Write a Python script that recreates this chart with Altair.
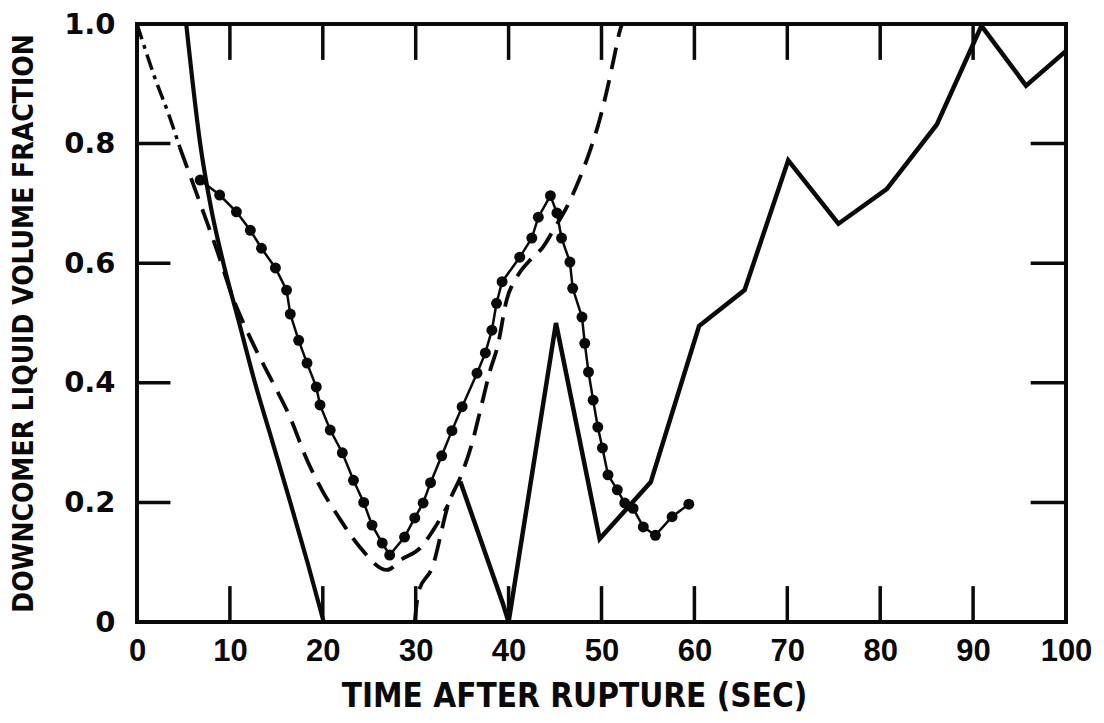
import altair as alt
import pandas as pd

# ---- data ----
x_ticks = [0, 10, 20, 30, 40, 50, 60, 70, 80, 90, 100]
y_ticks = [0, 0.2, 0.4, 0.6, 0.8, 1.0]
inner_x_ticks = [10, 20, 30, 40, 50, 60, 70, 80, 90]
inner_y_ticks = [0.2, 0.4, 0.6, 0.8]

dashdot_t = [0, 1.9, 3.5, 4.6]
dashdot_v = [1.0, 0.911, 0.845, 0.794]

dashed1_t = [4.6, 6.8, 8.6, 10.3, 11.6, 13.2, 14.8, 16.4, 18.3, 20.0, 21.6, 24.0, 26.9, 28.5, 30.5, 31.9, 33.5]
dashed1_v = [0.794, 0.70, 0.622, 0.543, 0.495, 0.443, 0.395, 0.345, 0.271, 0.218, 0.178, 0.125, 0.087, 0.105, 0.124, 0.154, 0.196]

dashed2_t = [29.9, 30.3, 31.8, 33.5, 35.0, 36.1, 37.0, 38.0, 38.8, 39.8, 40.9, 42.3, 43.7, 45.0,
             46.3, 47.6, 48.8, 49.8, 50.6, 51.3, 52.0, 52.2]
dashed2_v = [0.0, 0.05, 0.092, 0.196, 0.249, 0.301, 0.357, 0.42, 0.46, 0.539, 0.577, 0.605, 0.627, 0.66,
             0.695, 0.74, 0.79, 0.84, 0.89, 0.94, 0.99, 1.0]

solidA_t = [5.3, 6.8, 8.0, 9.3, 11.0, 12.7, 14.6, 16.5, 18.4, 20.1]
solidA_v = [1.0, 0.8, 0.69, 0.6, 0.5, 0.40, 0.30, 0.2, 0.097, 0.0]

solidB_t = [34.8, 39.4, 40.0, 45.1, 49.8, 55.3, 60.5, 65.4, 70.1, 75.5, 80.7, 86.1, 90.9, 95.7, 100]
solidB_v = [0.235, 0.03, 0.0, 0.5, 0.139, 0.234, 0.495, 0.555, 0.772, 0.666, 0.724, 0.832, 0.997, 0.897, 0.955]

dots_t = [6.8, 8.9, 10.7, 12.2, 13.4, 14.9, 16.1, 16.5, 17.4, 18.3, 19.3, 19.7, 20.8, 22.1, 23.3, 24.4,
          25.3, 26.4, 27.2, 28.8, 29.9, 30.8, 31.6, 32.8, 33.9, 35.0, 36.6, 37.5, 38.2, 38.7, 39.3,
          41.2, 42.5, 43.2, 44.5, 45.2, 45.7, 46.6, 46.9, 47.9, 48.2, 48.6, 49.1, 49.6, 50.1, 50.7,
          51.7, 52.5, 53.4, 54.5, 55.8, 57.6, 59.4]
dots_v = [0.739, 0.714, 0.686, 0.655, 0.625, 0.592, 0.555, 0.515, 0.471, 0.433, 0.393, 0.363, 0.321,
          0.283, 0.237, 0.2, 0.162, 0.132, 0.112, 0.142, 0.174, 0.199, 0.233, 0.278, 0.32, 0.36, 0.416,
          0.45, 0.488, 0.533, 0.569, 0.61, 0.642, 0.677, 0.713, 0.684, 0.642, 0.602, 0.558, 0.51,
          0.466, 0.418, 0.371, 0.326, 0.291, 0.246, 0.221, 0.199, 0.19, 0.159, 0.145, 0.176, 0.197]

INK = "#0a0a0a"
LABEL_FONT = "Liberation Sans, Roboto, DejaVu Sans"
YLABEL_FONT = "DejaVu Sans"
TITLE_FONT = "DejaVu Sans Condensed, DejaVu Sans"

W, H = 929, 598


def frame(t, v):
    return pd.DataFrame({"t": t, "v": v, "i": list(range(len(t)))})


xscale = alt.Scale(domain=[0, 100], nice=False, zero=False)
yscale = alt.Scale(domain=[0, 1], nice=False, zero=False)

xaxis = alt.Axis(
    values=x_ticks, ticks=False, domain=False, grid=False, labelOverlap=False, labelFlush=False,
    labelFont=LABEL_FONT, labelFontSize=31, labelFontWeight="bold", labelColor=INK, labelPadding=14,
    title="TIME AFTER RUPTURE (SEC)", titleFont=TITLE_FONT, titleFontSize=33, titleFontWeight="bold",
    titleColor=INK, titleX=437, titleY=84, titleAlign="center", titleBaseline="alphabetic",
)
yaxis = alt.Axis(
    values=y_ticks, ticks=False, domain=False, grid=False, labelOverlap=False, labelFlush=False,
    labelExpr="datum.value == 0 ? '0' : format(datum.value, '.1f')",
    labelFont=YLABEL_FONT, labelFontSize=29, labelFontWeight="bold", labelColor=INK, labelPadding=22,
    labelBaseline="middle",
    title="DOWNCOMER LIQUID VOLUME FRACTION", titleFont=TITLE_FONT, titleFontSize=28,
    titleFontWeight="bold", titleColor=INK, titleAngle=270, titleX=-113, titleY=H / 2,
    titleAlign="center", titleBaseline="middle",
)


def X(field="t"):
    return alt.X(f"{field}:Q", scale=xscale, axis=xaxis)


def Y(field="v"):
    return alt.Y(f"{field}:Q", scale=yscale, axis=yaxis)


def line(df, width, dash=None, interp="linear"):
    kw = dict(color=INK, strokeWidth=width, clip=True, interpolate=interp, strokeCap="butt")
    if dash:
        kw["strokeDash"] = dash
    return alt.Chart(df).mark_line(**kw).encode(x=X(), y=Y(), order="i:Q")


layers = [
    line(frame(dashdot_t, dashdot_v), 3.5, [16, 6, 4, 6], "monotone"),
    line(frame(dashed1_t, dashed1_v), 3.8, [22, 11], "monotone"),
    line(frame(dashed2_t, dashed2_v), 3.8, [22, 11], "monotone"),
    line(frame(solidA_t, solidA_v), 4.2, None, "monotone"),
    line(frame(solidB_t, solidB_v), 4.5, None, "linear"),
    line(frame(dots_t, dots_v), 2.5, None, "linear"),
    alt.Chart(frame(dots_t, dots_v)).mark_point(filled=True, color=INK, size=120, opacity=1).encode(x=X(), y=Y()),
]

# inward frame ticks (tick lengths in data units: 0.06 of y range, 3.6 of x range)
xt_bottom = pd.DataFrame({"t": inner_x_ticks, "a": [0.0] * len(inner_x_ticks), "b": [0.06] * len(inner_x_ticks)})
xt_top = pd.DataFrame({"t": inner_x_ticks, "a": [1.0] * len(inner_x_ticks), "b": [0.94] * len(inner_x_ticks)})
yt_left = pd.DataFrame({"v": inner_y_ticks, "a": [0.0] * len(inner_y_ticks), "b": [3.6] * len(inner_y_ticks)})
yt_right = pd.DataFrame({"v": inner_y_ticks, "a": [100.0] * len(inner_y_ticks), "b": [96.2] * len(inner_y_ticks)})
rule_kw = dict(color=INK, strokeWidth=3.5)
layers += [
    alt.Chart(xt_bottom).mark_rule(**rule_kw).encode(x=X("t"), y=Y("a"), y2="b:Q"),
    alt.Chart(xt_top).mark_rule(**rule_kw).encode(x=X("t"), y=Y("a"), y2="b:Q"),
    alt.Chart(yt_left).mark_rule(**rule_kw).encode(y=Y("v"), x=X("a"), x2="b:Q"),
    alt.Chart(yt_right).mark_rule(**rule_kw).encode(y=Y("v"), x=X("a"), x2="b:Q"),
]

chart = (
    alt.layer(*layers)
    .properties(
        width=W, height=H,
        autosize=alt.AutoSizeParams(type="none"),
        padding={"left": 129, "top": 16, "right": 30, "bottom": 93},
        background="white",
    )
    .configure_view(stroke=INK, strokeWidth=4)
)

chart.save("out.html", embed_options={"renderer": "svg", "actions": False})
